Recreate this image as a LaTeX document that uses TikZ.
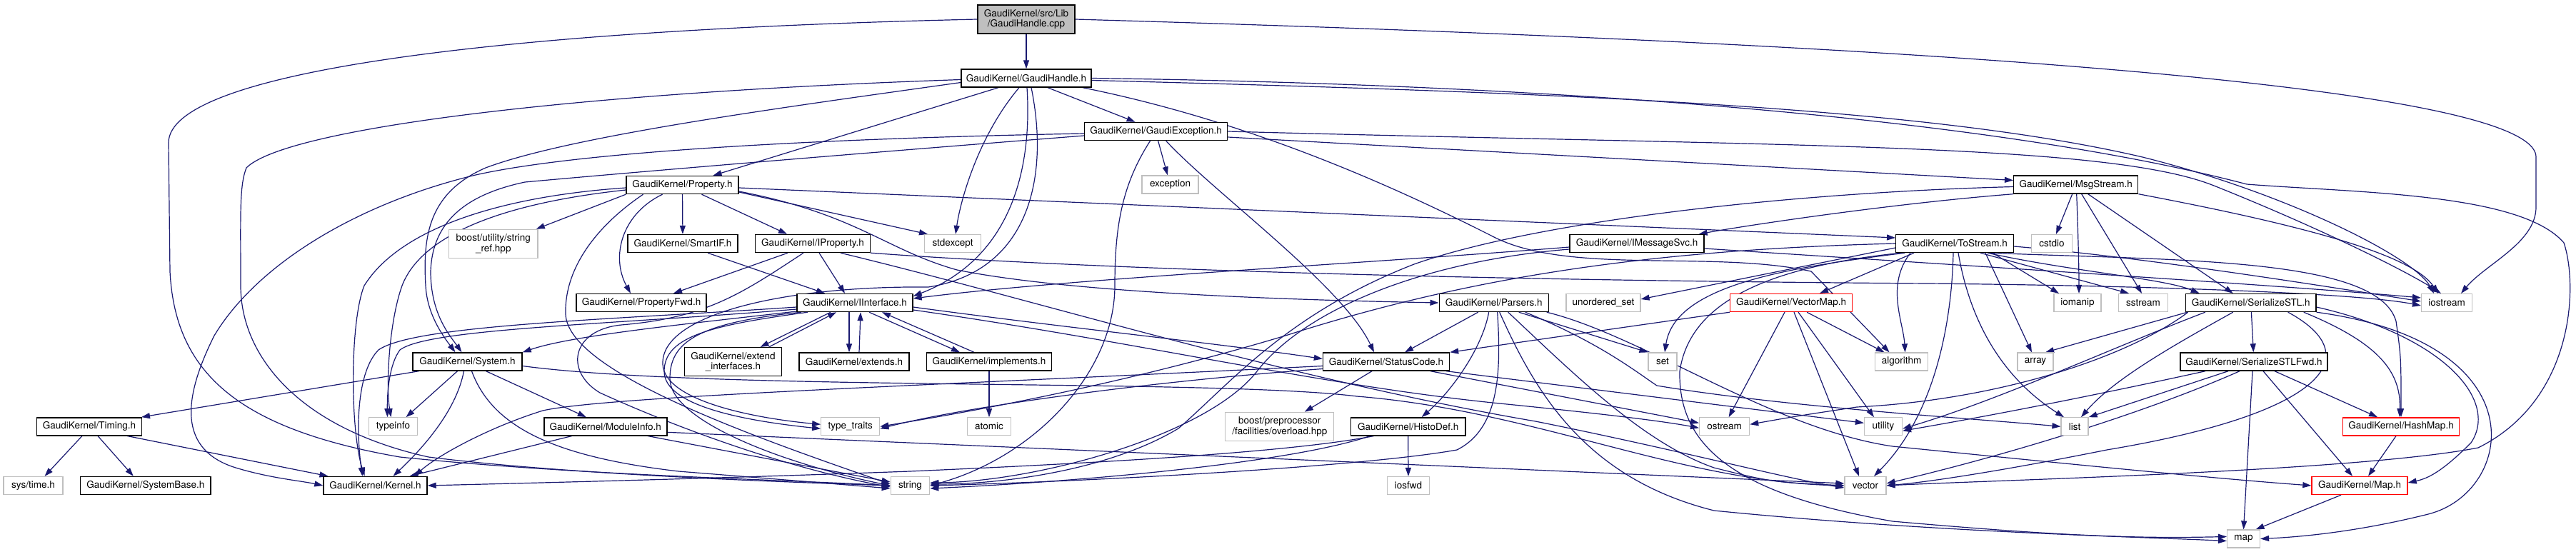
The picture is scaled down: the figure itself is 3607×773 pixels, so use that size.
\documentclass[tikz,border=0pt]{standalone}
\usepackage{fontspec}
\setmainfont{TeX Gyre Heros}
\usetikzlibrary{arrows.meta,backgrounds}
\definecolor{edgeblue}{HTML}{191970}
\definecolor{extgray}{HTML}{BFBFBF}
\newcommand\nfnt{\fontsize{13.5}{14.5}\selectfont}
\tikzset{
 box/.style={draw=black, fill=white, line width=1.4pt, inner sep=0pt, minimum height=25pt, align=center, font=\nfnt},
 ext/.style={box, draw=extgray, line width=1.2pt},
 trunc/.style={box, draw=red},
 e/.style={draw=edgeblue, line width=1.2pt, -{Triangle[length=12pt,width=8pt]}},
}
\begin{document}
\begin{tikzpicture}[x=1pt,y=-1pt]
\path[use as bounding box] (0,0) rectangle (3607,773);
% ---------------- nodes
\node[box, fill=extgray, minimum width=136pt, minimum height=40pt] (cpp) at (1437,27) {GaudiKernel/src/Lib\\/GaudiHandle.cpp};
\node[box, minimum width=182pt] (GH) at (1437,109.5) {GaudiKernel/GaudiHandle.h};
\node[box, minimum width=200pt] (GE) at (1618.6,184) {GaudiKernel/GaudiException.h};
\node[box, minimum width=157pt] (Prop) at (955.5,259) {GaudiKernel/Property.h};
\node[ext, minimum width=79pt] (exc) at (1638.5,258.5) {exception};
\node[box, minimum width=174pt] (MS) at (2906.7,258.5) {GaudiKernel/MsgStream.h};
\node[box, minimum width=154pt] (SmartIF) at (956,341) {GaudiKernel/SmartIF.h};
\node[box, minimum width=161pt] (IProp) at (1138,341) {GaudiKernel/IProperty.h};
\node[ext, minimum width=79pt] (stdexcept) at (1334,341) {stdexcept};
\node[ext, minimum width=124.5pt, minimum height=40pt] (bsr) at (690.8,341.3) {boost/utility/string\\\_ref.hpp};
\node[box, minimum width=188pt] (IMS) at (2292,341) {GaudiKernel/IMessageSvc.h};
\node[box, minimum width=164.5pt] (TS) at (2737,341) {GaudiKernel/ToStream.h};
\node[ext, minimum width=57pt] (cstdio) at (2873,341) {cstdio};
\node[box, minimum width=182pt] (PFwd) at (898,424) {GaudiKernel/PropertyFwd.h};
\node[box, minimum width=162pt] (II) at (1197,424) {GaudiKernel/IInterface.h};
\node[box, minimum width=153pt] (Pars) at (2091.7,424) {GaudiKernel/Parsers.h};
\node[ext, minimum width=104pt] (uset) at (2245,424) {unordered\_set};
\node[trunc, minimum width=171pt] (VM) at (2508,424) {GaudiKernel/VectorMap.h};
\node[ext, minimum width=66pt] (iomanip) at (2909,424) {iomanip};
\node[ext, minimum width=69pt] (sstream) at (3001,424) {sstream};
\node[box, minimum width=182.4pt] (SSTL) at (3151.7,424) {GaudiKernel/SerializeSTL.h};
\node[ext, minimum width=71pt] (iostream) at (3426,424) {iostream};
\node[box, minimum width=153pt] (Sys) at (654.5,506.5) {GaudiKernel/System.h};
\node[box, minimum width=136pt, minimum height=40pt] (ExtI) at (1026.5,506.7) {GaudiKernel/extend\\\_interfaces.h};
\node[box, minimum width=154pt] (Ext) at (1196,506.5) {GaudiKernel/extends.h};
\node[box, minimum width=174.5pt] (Impl) at (1385,506.5) {GaudiKernel/implements.h};
\node[box, minimum width=177pt] (SC) at (1941,506.5) {GaudiKernel/StatusCode.h};
\node[ext, minimum width=40pt] (set) at (2328,506.5) {set};
\node[ext, minimum width=74pt] (algorithm) at (2662.6,506.5) {algorithm};
\node[ext, minimum width=50pt] (array) at (2850,506.5) {array};
\node[box, minimum width=206pt] (SSTLF) at (3156,506.5) {GaudiKernel/SerializeSTLFwd.h};
\node[box, minimum width=147pt] (Timing) at (125,597.3) {GaudiKernel/Timing.h};
\node[ext, minimum width=68pt] (typeinfo) at (550.5,597.3) {typeinfo};
\node[box, minimum width=172pt] (ModInfo) at (847.8,597.3) {GaudiKernel/ModuleInfo.h};
\node[ext, minimum width=82pt] (tt) at (1190.7,597.3) {type\_traits};
\node[ext, minimum width=61pt] (atomic) at (1385,597.3) {atomic};
\node[ext, minimum width=152pt, minimum height=40pt] (bpp) at (1791.8,597.3) {boost/preprocessor\\/facilities/overload.hpp};
\node[box, minimum width=160.5pt] (HD) at (1971.7,597.3) {GaudiKernel/HistoDef.h};
\node[ext, minimum width=70pt] (ostream) at (2414.6,597.3) {ostream};
\node[ext, minimum width=53pt] (utility) at (2637,597.3) {utility};
\node[ext, minimum width=38pt] (list) at (2905,597.3) {list};
\node[trunc, minimum width=163pt] (HM) at (3362,597.3) {GaudiKernel/HashMap.h};
\node[ext, minimum width=83pt] (systime) at (46.5,680) {sys/time.h};
\node[box, minimum width=182.5pt] (SB) at (203.8,680) {GaudiKernel/SystemBase.h};
\node[box, minimum width=145pt] (Kernel) at (525.5,680) {GaudiKernel/Kernel.h};
\node[ext, minimum width=54.5pt] (string) at (1274.5,680) {string};
\node[ext, minimum width=59pt] (iosfwd) at (1972,680) {iosfwd};
\node[ext, minimum width=58pt] (vector) at (2612,680) {vector};
\node[trunc, minimum width=134pt] (Map) at (3304,680) {GaudiKernel/Map.h};
\node[ext, minimum width=46pt] (map) at (3141.5,754.5) {map};
% ---------------- edges
\begin{pgfonlayer}{background}
% cpp
\draw[e] (cpp) -- (GH);
\draw[e] (cpp.west) .. controls (700,42) and (236,100) .. (236,200) -- (238,380) .. controls (245,520) and (330,600) .. (560,640) .. controls (800,665) and (1100,672) .. (string.west);
\draw[e] (cpp.east) .. controls (2300,50) and (3551,100) .. (3551,220) -- (3551,290) .. controls (3551,340) and (3480,370) .. ([xshift=20pt]iostream.north);
% GaudiHandle.h
\draw[e] ([xshift=30pt]GH.south) -- ([xshift=-29pt]GE.north);
\draw[e] ([xshift=-39pt]GH.south) -- ([xshift=43pt]Prop.north);
\draw[e] ([xshift=-10pt]GH.south) .. controls (1370,190) and (1345,280) .. ([xshift=4pt]stdexcept.north);
\draw[e] ([xshift=1pt]GH.south) .. controls (1445,230) and (1420,360) .. ([yshift=-4pt]II.north east);
\draw[e] ([xshift=7pt]GH.south) .. controls (1470,250) and (1440,380) .. (1300,402) .. controls (1100,400) and (925,440) .. (928,510) .. controls (930,560) and (1050,585) .. ([yshift=3pt]tt.west);
\draw[e] ([yshift=-6pt]GH.west) .. controls (1100,150) and (800,190) .. (680,235) .. controls (600,270) and (592,330) .. (596,400) .. controls (598,440) and (620,470) .. ([xshift=-17pt]Sys.north);
\draw[e] ([yshift=-2pt]GH.west) .. controls (800,130) and (400,180) .. (345,235) .. controls (335,260) and (337,300) .. (337,400) .. controls (337,500) and (420,600) .. (600,640) .. controls (800,665) and (1100,675) .. (string.west);
\draw[e] (GH.east) .. controls (2300,120) and (2850,180) .. (3146,258) .. controls (3300,270) and (3530,270) .. (3590,340) .. controls (3610,400) and (3605,560) .. (3470,627) .. controls (3300,660) and (2800,672) .. (vector.east);
\draw[e] ([yshift=-3pt]GH.east) .. controls (2200,130) and (2700,150) .. (3000,220) .. controls (3200,270) and (3380,360) .. ([xshift=-18pt]iostream.north);
\draw[e] ([xshift=79pt]GH.south) .. controls (1750,170) and (1950,260) .. (2094,333) .. controls (2200,385) and (2400,350) .. (2536,380) -- ([xshift=-17pt]algorithm.north);
% GaudiException.h
\draw[e] ([xshift=3pt]GE.south) -- (exc);
\draw[e] ([xshift=-8pt]GE.south) .. controls (1570,260) and (1561,320) .. (1561,400) .. controls (1561,520) and (1450,640) .. (string.east);
\draw[e] ([xshift=14pt]GE.south) .. controls (1700,270) and (1880,400) .. ([xshift=-17pt]SC.north);
\draw[e] ([yshift=-3pt]GE.west) .. controls (1100,195) and (800,215) .. (666,245) .. controls (500,285) and (360,370) .. (300,470) .. controls (255,560) and (250,630) .. (330,655) .. controls (380,670) and (420,673) .. (Kernel.west);
\draw[e] ([yshift=-6pt]GE.west) .. controls (1200,215) and (900,240) .. (735,255) .. controls (640,275) and (605,320) .. (603,380) .. controls (603,440) and (630,470) .. ([xshift=-8pt]Sys.north);
\draw[e] ([yshift=-8pt]GE.east) -- ([yshift=6pt]MS.west);
\draw[e] (GE.east) .. controls (2500,205) and (2950,200) .. (3100,260) .. controls (3250,320) and (3370,380) .. ([xshift=-8pt]iostream.north);
% Property.h
\draw[e] (Prop) -- (SmartIF);
\draw[e] ([xshift=27pt]Prop.south) -- ([xshift=-36pt]IProp.north);
\draw[e] ([yshift=-10pt]Prop.east) -- ([xshift=-35pt]stdexcept.north);
\draw[e] (Prop.south west) -- ([xshift=60pt]bsr.north);
\draw[e] ([xshift=-28pt]Prop.south) .. controls (870,300) and (855,360) .. ([xshift=-15pt]PFwd.north);
\draw[e] ([yshift=-4pt]Prop.west) .. controls (700,275) and (560,320) .. (510,400) .. controls (490,450) and (490,600) .. ([xshift=-15pt]Kernel.north);
\draw[e] ([yshift=-7pt]Prop.west) .. controls (700,285) and (590,330) .. (563,400) .. controls (545,450) and (540,540) .. ([xshift=-3pt]typeinfo.north);
\draw[e] ([xshift=-55pt]Prop.south) .. controls (830,320) and (790,380) .. (792,440) .. controls (795,520) and (1050,610) .. ([yshift=2pt]string.west);
\draw[e] ([yshift=-4pt]Prop.east) -- ([yshift=8pt]TS.west);
\draw[e] ([yshift=-9pt]Prop.east) .. controls (1200,300) and (1240,350) .. (1340,378) .. controls (1500,410) and (1800,420) .. (Pars.west);
% IProperty.h
\draw[e] ([xshift=-35pt]IProp.south) -- ([xshift=45pt]PFwd.north);
\draw[e] ([xshift=9pt]IProp.south) -- ([xshift=-14pt]II.north);
\draw[e] ([xshift=-13pt]IProp.south) .. controls (1040,410) and (990,445) .. (870,455) .. controls (800,462) and (790,520) .. (840,550) .. controls (950,600) and (1100,655) .. ([yshift=-2pt]string.west);
\draw[e] ([xshift=39pt]IProp.south) .. controls (1450,420) and (1800,530) .. (2150,590) .. controls (2350,630) and (2500,670) .. ([yshift=-3pt]vector.west);
\draw[e] (IProp.south east) .. controls (1500,375) and (2000,392) .. (2700,397) .. controls (3000,400) and (3300,410) .. ([yshift=-4pt]iostream.west);
% IInterface.h
\draw[e] ([xshift=-34pt]II.south) -- ([xshift=38pt]ExtI.north);
\draw[e] ([xshift=50pt]ExtI.north) -- ([xshift=-26pt]II.south);
\draw[e] ([xshift=-8pt]II.south) -- ([xshift=-7pt]Ext.north);
\draw[e] ([xshift=7pt]Ext.north) -- ([xshift=8pt]II.south);
\draw[e] ([xshift=20pt]II.south) -- ([xshift=-41pt]Impl.north);
\draw[e] ([xshift=-21pt]Impl.north) -- ([xshift=38pt]II.south);
\draw[e] (Impl) -- (atomic);
\draw[e] ([xshift=-66pt]II.south) .. controls (1000,455) and (930,470) .. (930,520) .. controls (930,570) and (1050,590) .. ([yshift=-3pt]tt.west);
\draw[e] ([xshift=-75pt]II.south) .. controls (975,452) and (938,480) .. (938,530) .. controls (938,590) and (1100,650) .. (string.west);
\draw[e] ([yshift=-6pt]II.west) .. controls (850,448) and (580,455) .. (530,490) .. controls (500,520) and (498,600) .. ([xshift=-18pt]Kernel.north);
\draw[e] ([yshift=-9pt]II.west) .. controls (850,455) and (600,460) .. (560,490) .. controls (545,510) and (542,550) .. ([xshift=-8pt]typeinfo.north);
\draw[e] ([yshift=-12pt]II.west) .. controls (950,455) and (800,470) .. (Sys.north east);
\draw[e] ([yshift=-6pt]II.east) .. controls (1500,460) and (1700,480) .. ([yshift=4pt]SC.west);
\draw[e] ([yshift=-10pt]II.east) .. controls (1600,480) and (1850,540) .. (2100,565) .. controls (2250,580) and (2330,590) .. ([yshift=-2pt]ostream.west);
\draw[e] ([xshift=35pt]SmartIF.south) -- ([xshift=-42pt]II.north);
% System.h
\draw[e] ([xshift=-68pt]Sys.south) -- ([xshift=73pt]Timing.north);
\draw[e] ([xshift=-14pt]Sys.south) -- ([xshift=18pt]typeinfo.north);
\draw[e] ([xshift=-5pt]Sys.south) .. controls (640,570) and (600,620) .. ([xshift=25pt]Kernel.north);
\draw[e] ([xshift=6pt]Sys.south) .. controls (690,600) and (780,640) .. (950,660) .. controls (1100,672) .. ([yshift=-4pt]string.west);
\draw[e] ([xshift=26pt]Sys.south) -- ([xshift=-27pt]ModInfo.north);
\draw[e] ([yshift=-6pt]Sys.east) .. controls (1000,548) and (1700,530) .. (1900,555) .. controls (2150,575) and (2350,675) .. (vector.west);
% ModuleInfo.h / Timing.h
\draw[e] ([xshift=-47pt]ModInfo.south) -- ([xshift=48pt]Kernel.north);
\draw[e] ([xshift=59pt]ModInfo.south) -- ([yshift=5pt]string.west);
\draw[e] ([yshift=-8pt]ModInfo.east) -- ([yshift=3pt]vector.west);
\draw[e] ([xshift=-10pt]Timing.south) -- ([xshift=16pt]systime.north);
\draw[e] ([xshift=12pt]Timing.south) -- ([xshift=-17pt]SB.north);
\draw[e] ([xshift=53pt]Timing.south) -- ([xshift=-66pt]Kernel.north);
% StatusCode.h
\draw[e] ([xshift=-20pt]SC.south) -- ([xshift=35pt]bpp.north);
\draw[e] ([yshift=-6pt]SC.west) .. controls (1300,540) and (850,555) .. (760,575) .. controls (680,600) and (610,640) .. ([xshift=55pt]Kernel.north);
\draw[e] ([yshift=-10pt]SC.west) .. controls (1600,535) and (1350,570) .. ([yshift=-3pt]tt.east);
\draw[e] ([xshift=62pt]SC.south) -- ([yshift=5pt]ostream.west);
\draw[e] ([xshift=84pt]SC.south) -- ([yshift=5pt]utility.west);
% Parsers.h
\draw[e] ([xshift=-22pt]Pars.south) -- ([xshift=26pt]SC.north);
\draw[e] ([xshift=-7pt]Pars.south) .. controls (2075,490) and (2030,550) .. ([xshift=19pt]HD.north);
\draw[e] ([xshift=5pt]Pars.south) .. controls (2102,520) and (2100,600) .. (2040,630) .. controls (1900,655) and (1500,675) .. (string.east);
\draw[e] ([xshift=8pt]Pars.south) .. controls (2150,550) and (2220,670) .. (2400,715) .. controls (2700,745) and (3000,752) .. ([yshift=-3pt]map.west);
\draw[e] ([xshift=20pt]Pars.south) .. controls (2200,520) and (2300,620) .. (2400,655) .. controls (2480,675) .. (vector.west);
\draw[e] ([xshift=35pt]Pars.south) -- (set.north west);
\draw[e] ([xshift=44pt]Pars.south) .. controls (2240,480) and (2290,520) .. (2320,540) .. controls (2500,570) and (2750,585) .. (list.west);
\draw[e] ([xshift=74pt]Pars.south) .. controls (2300,470) and (2480,600) .. (2650,625) .. controls (2900,650) and (3100,670) .. (Map.west);
% HistoDef.h
\draw[e] (HD) -- (iosfwd);
\draw[e] ([xshift=-48pt]HD.south) .. controls (1800,635) and (1500,650) .. (1274,660) .. controls (1000,670) and (800,675) .. (Kernel.east);
\draw[e] ([xshift=-53pt]HD.south) .. controls (1800,650) and (1500,675) .. ([yshift=-4pt]string.east);
% VectorMap.h
\draw[e] (VM.south west) -- (SC.north east);
\draw[e] ([xshift=-9pt]VM.south) -- ([xshift=6pt]ostream.north);
\draw[e] ([xshift=4pt]VM.south) -- ([xshift=-9pt]vector.north);
\draw[e] ([xshift=10pt]VM.south) -- ([xshift=-13pt]utility.north);
\draw[e] ([xshift=22pt]VM.south) -- ([xshift=-24pt]algorithm.north);
% ToStream.h
\draw[e] ([xshift=-57pt]TS.south) -- ([xshift=40pt]VM.north);
\draw[e] ([yshift=-6pt]TS.west) -- ([yshift=5pt]uset.east);
\draw[e] ([xshift=-70pt]TS.south) .. controls (2500,375) and (2345,400) .. ([xshift=3pt]set.north);
\draw[e] ([xshift=-62pt]TS.south) .. controls (2640,400) and (2665,450) .. ([xshift=5pt]algorithm.north);
\draw[e] ([xshift=-75pt]TS.south) .. controls (2460,375) and (2365,430) .. (2352,520) .. controls (2350,620) and (2420,690) .. (2650,730) .. controls (2900,752) and (3000,754) .. ([yshift=3pt]map.west);
\draw[e] ([xshift=-2pt]TS.south) .. controls (2733,450) and (2710,580) .. ([xshift=12pt]vector.north);
\draw[e] ([xshift=5pt]TS.south) .. controls (2755,430) and (2790,520) .. ([xshift=-15pt]list.north);
\draw[e] ([xshift=43pt]TS.south) -- ([xshift=-5pt]array.north);
\draw[e] ([xshift=53pt]TS.south) -- ([xshift=-26pt]iomanip.north);
\draw[e] ([xshift=36pt]TS.south) -- ([xshift=-20pt]sstream.north);
\draw[e] ([xshift=46pt]TS.south) .. controls (2900,380) and (3030,390) .. ([xshift=-72pt]SSTL.north);
\draw[e] ([yshift=-4pt]TS.east) .. controls (3000,360) and (3250,400) .. ([yshift=2pt]iostream.west);
\draw[e] ([xshift=50pt]TS.south) .. controls (3050,365) and (3330,360) .. (3355,450) .. controls (3362,500) .. (HM.north);
\draw[e] (TS.west) .. controls (2300,350) and (2050,390) .. (1800,470) .. controls (1600,530) and (1400,570) .. (tt.east);
% SerializeSTL.h
\draw[e] (SSTL) -- (SSTLF);
\draw[e] ([xshift=-89pt]SSTL.south) -- ([xshift=14pt]array.north);
\draw[e] ([xshift=-25pt]SSTL.south) .. controls (3050,480) and (2960,530) .. ([xshift=9pt]list.north);
\draw[e] ([xshift=-64pt]SSTL.south) .. controls (2950,490) and (2800,560) .. ([yshift=-3pt]utility.east);
\draw[e] ([xshift=-88pt]SSTL.south) .. controls (2980,500) and (2800,560) .. (2600,570) .. controls (2520,582) .. ([yshift=3pt]ostream.east);
\draw[e] ([xshift=52pt]SSTL.south) .. controls (3320,500) and (3250,580) .. (2950,630) .. controls (2800,660) and (2700,675) .. (vector.east);
\draw[e] ([xshift=74pt]SSTL.south) .. controls (3330,480) and (3362,520) .. ([xshift=-2pt]HM.north);
\draw[e] ([yshift=-6pt]SSTL.east) .. controls (3420,470) and (3500,560) .. (3460,620) .. controls (3420,660) and (3400,670) .. ([yshift=4pt]Map.east);
\draw[e] (SSTL.south east) .. controls (3560,480) and (3520,690) .. (3400,720) .. controls (3300,745) and (3220,752) .. (map.east);
% SerializeSTLFwd.h
\draw[e] ([xshift=-68pt]SSTLF.south) .. controls (2950,550) and (2800,580) .. ([yshift=-6pt]utility.east);
\draw[e] ([xshift=-36pt]SSTLF.south) -- (list.north east);
\draw[e] ([xshift=-20pt]SSTLF.south) .. controls (3000,580) and (2800,640) .. ([yshift=3pt]vector.east);
\draw[e] ([xshift=-2pt]SSTLF.south) -- (map.north);
\draw[e] ([xshift=13pt]SSTLF.south) -- ([xshift=-10pt]Map.north);
\draw[e] ([xshift=29pt]SSTLF.south) -- ([xshift=-33pt]HM.north);
\draw[e] ([xshift=-7pt]HM.south) -- ([xshift=12pt]Map.north);
\draw[e] ([xshift=-26pt]Map.south) -- ([xshift=17pt]map.north);
% MsgStream.h
\draw[e] (MS.south west) .. controls (2650,285) and (2450,315) .. ([xshift=-8pt]IMS.north east);
\draw[e] ([yshift=-3pt]MS.west) .. controls (2500,270) and (2150,310) .. (1980,370) .. controls (1800,440) and (1720,540) .. (1650,600) .. controls (1550,660) and (1400,678) .. ([yshift=2pt]string.east);
\draw[e] ([xshift=-5pt]MS.south) -- ([xshift=6pt]cstdio.north);
\draw[e] ([xshift=1pt]MS.south) .. controls (2910,330) and (2911,380) .. ([xshift=2pt]iomanip.north);
\draw[e] ([xshift=8pt]MS.south) -- ([xshift=-2pt]sstream.north);
\draw[e] ([xshift=17pt]MS.south) -- ([xshift=-25pt]SSTL.north);
\draw[e] (MS.south east) .. controls (3250,320) and (3380,360) .. ([xshift=-12pt]iostream.north);
% IMessageSvc.h
\draw[e] ([yshift=-5pt]IMS.west) .. controls (1900,370) and (1500,390) .. ([yshift=6pt]II.east);
\draw[e] ([yshift=-8pt]IMS.west) .. controls (2000,365) and (1830,430) .. (1760,520) .. controls (1690,610) and (1450,675) .. ([yshift=4pt]string.east);
\draw[e] ([yshift=-7pt]IMS.east) .. controls (2800,375) and (3200,400) .. ([yshift=7pt]iostream.west);
\end{pgfonlayer}
\end{tikzpicture}
\end{document}
